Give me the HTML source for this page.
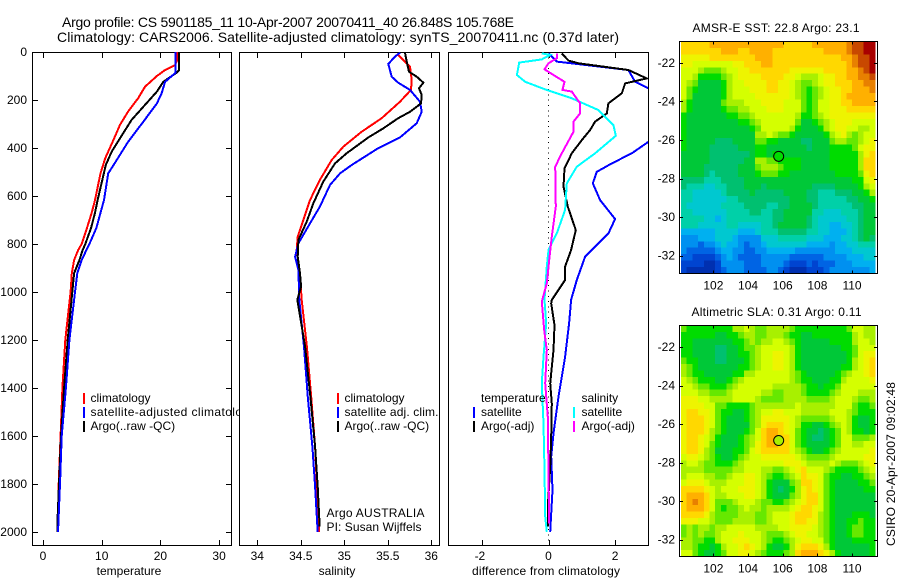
<!DOCTYPE html>
<html lang="en">
<head>
<meta charset="utf-8">
<title>Argo profile</title>
<style>
html,body{margin:0;padding:0;background:#fff}
svg{display:block}
text{font-family:"Liberation Sans",sans-serif;font-size:12px;fill:#000}
.title{font-size:14px}
.frame{fill:#fff;stroke:#000;stroke-width:1;shape-rendering:crispEdges}
.box{fill:none;stroke:#000;stroke-width:1;shape-rendering:crispEdges}
</style>
</head>
<body>
<svg id="fig" xmlns="http://www.w3.org/2000/svg" width="900" height="580" viewBox="0 0 900 580">
<defs>
<clipPath id="clip-diff"><rect x="449" y="52" width="199" height="493"/></clipPath>
<clipPath id="clip-temp"><rect x="33" y="52" width="198" height="493"/></clipPath>
<clipPath id="clip-sal"><rect x="240" y="52" width="199" height="493"/></clipPath>
</defs>
<text class="title" x="62" y="27" textLength="452" lengthAdjust="spacing">Argo profile: CS 5901185_11 10-Apr-2007 20070411_40 26.848S 105.768E</text>
<text class="title" x="57" y="42" textLength="562" lengthAdjust="spacing">Climatology: CARS2006. Satellite-adjusted climatology: synTS_20070411.nc (0.37d later)</text>

<g id="panel-temp">
<rect class="frame" x="32.5" y="52.5" width="199" height="493"/>
<g id="temp-ticks"></g>
<g id="temp-lines" clip-path="url(#clip-temp)"></g>
<rect x="83" y="393" width="2" height="11" fill="#f00"/>
<rect x="83" y="407" width="2" height="11" fill="#00f"/>
<rect x="83" y="421" width="2" height="11" fill="#000"/>
<text x="90.5" y="402">climatology</text>
<text x="90.5" y="416" textLength="165" lengthAdjust="spacing">satellite-adjusted climatology</text>
<text x="90.5" y="430">Argo(..raw -QC)</text>
<text x="129" y="575" text-anchor="middle">temperature</text>
</g>

<g id="panel-sal">
<rect class="frame" x="239.5" y="52.5" width="200" height="493"/>
<g id="sal-ticks"></g>
<g id="sal-lines" clip-path="url(#clip-sal)"></g>
<rect x="337" y="393" width="2" height="11" fill="#f00"/>
<rect x="337" y="407" width="2" height="11" fill="#00f"/>
<rect x="337" y="421" width="2" height="11" fill="#000"/>
<text x="344.5" y="402">climatology</text>
<text x="344.5" y="416" textLength="94" lengthAdjust="spacing">satellite adj. clim.</text>
<text x="344.5" y="430">Argo(..raw -QC)</text>
<text x="326.5" y="517" textLength="98" lengthAdjust="spacing">Argo AUSTRALIA</text>
<text x="326.5" y="531" textLength="95" lengthAdjust="spacing">PI: Susan Wijffels</text>
<text x="337" y="575" text-anchor="middle">salinity</text>
</g>

<g id="panel-diff">
<rect class="frame" x="448.5" y="52.5" width="200" height="493"/>
<g id="diff-ticks"></g>
<g id="diff-lines" clip-path="url(#clip-diff)"></g>
<rect x="473" y="407" width="2" height="11" fill="#00f"/>
<rect x="473" y="421" width="2" height="11" fill="#000"/>
<rect x="573" y="407" width="2" height="11" fill="#0ff"/>
<rect x="573" y="421" width="2" height="11" fill="#f0f"/>
<text x="481" y="402">temperature</text>
<text x="481" y="416">satellite</text>
<text x="481" y="430">Argo(-adj)</text>
<text x="581.5" y="402">salinity</text>
<text x="581.5" y="416">satellite</text>
<text x="581.5" y="430">Argo(-adj)</text>
<text x="546" y="575" text-anchor="middle" textLength="148" lengthAdjust="spacing">difference from climatology</text>
</g>

<g id="map-sst">
<text x="692.5" y="32" textLength="167" lengthAdjust="spacing">AMSR-E SST: 22.8 Argo: 23.1</text>
<g id="sst-cells" shape-rendering="crispEdges"></g>
<rect class="box" x="679.5" y="41.5" width="198" height="232"/>
<g id="sst-ticks"></g>
<g id="sst-marker"></g>
</g>

<g id="map-sla">
<text x="691.5" y="316" textLength="170" lengthAdjust="spacing">Altimetric SLA: 0.31 Argo: 0.11</text>
<g id="sla-cells" shape-rendering="crispEdges"></g>
<rect class="box" x="679.5" y="325.5" width="198" height="231"/>
<g id="sla-ticks"></g>
<g id="sla-marker"></g>
</g>

<text transform="translate(895 546) rotate(-90)" textLength="164" lengthAdjust="spacing">CSIRO 20-Apr-2007 09:02:48</text>
</svg>

<script>
// ---- Temperature panel data ----
const tempXTicks = [0, 10, 20, 30];
const depthTicks = [0, 200, 400, 600, 800, 1000, 1200, 1400, 1600, 1800, 2000];
const tempClimDepth = [0, 33, 54, 75, 100, 144, 193, 248, 304, 367, 443, 506, 617, 670, 733, 800, 825, 867, 922, 1000, 1200, 1400, 1600, 1800, 2000];
const tempClimValue = [22.9, 22.9, 22.5, 20.8, 19.4, 17.4, 16.2, 14.5, 13.1, 12, 10.6, 9.8, 8.86, 8.3, 7.5, 6.6, 6.0, 5.3, 4.9, 4.7, 3.8, 3.3, 3.0, 2.67, 2.5];
const tempArgoDepth = [0, 75, 86, 124, 165, 228, 283, 325, 415, 471, 617, 670, 733, 800, 825, 867, 922, 1000, 1200, 1400, 1600, 1800, 1950, 2000];
const tempArgoValue = [23.2, 23.2, 22.8, 20.5, 19.4, 17.1, 15.1, 14, 11.7, 10.7, 9.3, 8.86, 8.2, 7.2, 6.76, 6.2, 5.3, 5, 4.2, 3.6, 3.07, 2.72, 2.47, 2.45];
const tempSatDepth = [0, 47, 86, 124, 172, 214, 290, 374, 464, 506, 617, 670, 733, 800, 825, 867, 922, 1000, 1200, 1400, 1600, 1800, 2000];
const tempSatValue = [22.6, 22.6, 22.6, 20.8, 20.2, 19.4, 17.1, 14.5, 12.2, 11.1, 10.4, 9.8, 9.1, 7.9, 7.4, 6.6, 5.85, 5.45, 4.5, 3.9, 3.18, 2.9, 2.55];

// ---- Salinity panel data ----
const salXTicks = [34, 34.5, 35, 35.5, 36];
const salXLabels = ['34', '34.5', '35', '35.5', '36'];
const salClimDepth = [12, 61, 117, 158, 207, 276, 332, 394, 450, 533, 617, 700, 769, 825, 867, 978, 1033, 1228, 1437, 1645, 2000];
const salClimValue = [35.62, 35.755, 35.775, 35.767, 35.64, 35.43, 35.2, 34.99, 34.855, 34.72, 34.606, 34.53, 34.464, 34.453, 34.47, 34.5, 34.51, 34.57, 34.62, 34.664, 34.71];
const salArgoDepth = [3, 40, 82, 103, 128, 151, 179, 214, 249, 276, 318, 356, 422, 464, 540, 631, 707, 783, 853, 922, 978, 1033, 1228, 1437, 1645, 1811, 1978];
const salArgoValue = [35.698, 35.717, 35.744, 35.832, 35.909, 35.859, 35.89, 35.882, 35.755, 35.62, 35.449, 35.277, 35.027, 34.893, 34.759, 34.644, 34.568, 34.472, 34.464, 34.491, 34.503, 34.46, 34.55, 34.61, 34.664, 34.694, 34.717];
const salSatDepth = [3, 19, 50, 103, 128, 158, 207, 249, 297, 356, 401, 471, 506, 554, 644, 714, 797, 853, 908, 1033, 1228, 1437, 1645, 1811, 2000];
const salSatValue = [35.64, 35.583, 35.506, 35.545, 35.62, 35.755, 35.87, 35.89, 35.832, 35.64, 35.39, 35.085, 34.95, 34.836, 34.72, 34.606, 34.472, 34.434, 34.472, 34.483, 34.537, 34.58, 34.633, 34.664, 34.694];

// ---- Difference panel data ----
const diffXTicks = [-2, 0, 2];
const diffTempSatDepth = [6, 26, 40, 75, 124, 151, 262, 374, 422, 464, 499, 547, 617, 696, 756, 853, 950, 1033, 1131, 1270, 1436, 1589, 1686, 1825, 1999];
const diffTempSatValue = [0, 0.15, 0.25, 2.4, 2.6, 3.0, 4.0, 3.0, 2.5, 1.9, 1.45, 1.33, 1.55, 2.0, 1.8, 1.1, 0.85, 0.68, 0.62, 0.5, 0.3, 0.15, 0.08, 0.12, 0.05];
const diffTempArgoDepth = [6, 36, 47, 75, 110, 131, 172, 214, 256, 290, 325, 367, 422, 485, 561, 644, 742, 825, 894, 950, 1033, 1048, 1138, 1242, 1381, 1464, 1603, 1728, 1895, 1978];
const diffTempArgoValue = [0.4, 0.6, 0.9, 2.4, 2.95, 2.3, 2.2, 1.8, 1.75, 1.4, 1.25, 1.0, 0.7, 0.48, 0.45, 0.58, 0.82, 0.68, 0.5, 0.5, 0.1, 0.08, 0.18, 0.15, 0.05, 0.1, 0.08, 0.05, -0.02, -0.02];
const diffSalSatDepth = [6, 12, 31, 44, 96, 124, 156, 193, 242, 304, 349, 422, 478, 547, 658, 756, 825, 894, 1033, 1131, 1270, 1381, 1548, 1742, 1936, 1999];
const diffSalSatValue = [-0.2, 0.05, -0.2, -0.88, -0.95, -0.7, -0.1, 0.7, 1.5, 1.95, 2.02, 1.4, 0.85, 0.55, 0.5, 0.25, 0, -0.05, -0.12, -0.07, -0.15, -0.2, -0.15, -0.12, -0.1, -0.05];
const diffSalArgoDepth = [6, 26, 47, 72, 96, 124, 158, 165, 214, 256, 290, 332, 422, 478, 644, 769, 867, 964, 1040, 1159, 1242, 1381, 1520, 1756, 1964];
const diffSalArgoValue = [0.25, 0.25, 0, -0.12, 0.15, 0.48, 0.42, 0.7, 0.95, 0.95, 0.75, 0.75, 0.4, 0.2, 0.22, 0.1, 0.02, -0.05, -0.2, -0.13, -0.05, -0.1, -0.02, 0, 0.02];

// ---- Map data: rows north to south, colour level per cell ----
const mapLonTicks = [102, 104, 106, 108, 110];
const mapLatTicks = [-22, -24, -26, -28, -30, -32];
const argoLon = 105.768;
const argoLat = -26.848;
const argoSstLevel = 9.4;
const argoSlaLevel = 11;
const sstLevels = [
[14,14,14,14,14,15,15,15,15,15,15,15,15,15,15,15,15,15,14,14,14,14,14,15,15,15,15,15,15,16,17,17,18,18],
[14,14,14,14,14,14,14,15,15,15,14,14,15,15,15,15,14,14,14,14,14,14,14,14,14,15,15,15,15,16,17,17,18,18],
[13,13,13,13,13,14,14,14,14,14,14,14,14,15,15,15,14,14,14,14,14,14,14,14,14,14,14,14,15,15,16,17,17,18],
[13,13,12,12,12,12,12,12,12,13,13,14,14,14,15,15,14,14,14,14,14,14,14,14,14,14,14,14,14,15,16,17,17,18],
[12,12,12,11,10,10,10,11,12,12,13,13,14,14,14,14,14,14,14,13,13,13,13,13,13,14,14,14,14,15,15,16,17,18],
[12,12,11,9,9,9,9,10,11,12,13,13,13,13,14,14,14,14,13,13,12,11,11,11,12,13,13,14,14,15,15,16,16,17],
[12,11,10,8,8,8,8,9,11,12,12,13,13,13,13,14,14,13,13,12,11,10,10,11,12,13,13,14,14,14,15,15,16,16],
[12,10,9,8,8,8,8,9,11,12,12,12,13,13,13,14,14,13,13,12,11,10,9,10,11,12,13,13,14,14,15,15,15,16],
[12,10,8,8,8,8,8,9,11,12,12,12,12,13,13,13,13,13,13,12,11,10,9,10,11,12,13,13,14,15,15,15,15,15],
[11,9,8,8,8,8,8,10,11,11,11,12,12,12,13,13,13,13,12,12,12,10,9,10,12,12,13,13,14,14,15,15,15,15],
[11,9,8,8,8,8,8,9,10,10,11,11,12,12,12,13,13,13,12,12,12,10,9,10,12,12,13,13,13,14,14,14,14,14],
[9,8,8,8,8,8,8,8,9,9,10,10,11,12,12,12,12,12,12,12,11,9,9,10,11,12,13,13,13,13,13,13,13,13],
[9,8,8,8,8,8,8,8,8,8,9,9,10,11,12,12,12,12,12,12,10,8,8,9,10,11,12,13,13,13,12,12,12,12],
[9,8,8,8,8,8,8,8,8,8,8,8,9,10,12,12,12,12,12,11,9,8,8,8,9,11,12,13,13,12,12,11,11,12],
[9,8,8,8,8,8,8,8,8,8,8,8,8,11,11,12,11,10,10,9,8,8,8,8,8,9,11,12,13,11,10,11,12,12],
[9,8,8,8,8,8,7,7,7,8,8,8,8,10,10,9,9,8,8,8,8,7,7,8,8,8,10,11,11,10,10,11,12,13],
[9,8,8,8,8,7,7,7,7,7,8,8,8,9,9,8,8,8,8,8,8,8,7,8,8,8,9,9,9,9,10,12,13,13],
[8,8,8,8,8,7,7,7,7,7,7,7,8,9,9,8,9,9,8,8,8,8,8,8,8,8,9,9,9,9,9,11,13,14],
[8,8,8,8,8,7,7,7,7,7,7,8,8,11,11,10,10,9,9,9,9,8,8,8,8,8,9,9,9,9,9,11,14,14],
[8,8,8,8,7,7,7,7,7,7,8,8,8,10,11,11,11,10,9,9,9,8,8,8,8,8,9,9,9,9,9,11,14,14],
[8,8,8,8,7,6,7,7,7,7,8,8,8,9,10,10,10,9,9,8,8,8,8,8,8,8,8,9,9,9,9,10,13,14],
[7,7,7,7,6,6,6,7,7,7,7,8,8,8,8,8,8,8,8,8,8,8,8,8,8,8,8,8,8,8,9,9,12,13],
[7,6,6,6,5,5,6,6,7,7,7,8,8,8,7,8,8,8,8,8,8,8,8,7,7,7,7,8,8,8,8,9,11,12],
[6,6,5,5,5,5,5,6,7,7,7,7,8,7,7,7,7,7,8,8,8,8,7,7,6,6,6,7,7,7,8,8,9,11],
[6,6,5,5,5,5,5,5,6,6,7,7,7,7,7,7,7,7,7,8,8,8,7,7,6,6,6,6,6,7,7,8,8,9],
[6,5,5,5,5,5,5,6,6,6,6,7,7,7,7,6,6,7,7,8,8,8,8,7,6,6,6,6,6,6,7,7,8,8],
[6,6,5,5,5,5,5,5,6,6,6,6,7,7,6,6,7,7,8,8,8,8,8,6,6,5,5,5,6,6,6,7,8,8],
[6,6,6,6,5,5,4,5,6,6,6,6,6,6,6,6,7,7,8,8,8,8,7,6,5,5,5,5,5,6,6,7,8,8],
[6,6,6,5,5,5,5,5,6,6,5,5,5,5,6,6,7,8,8,8,8,8,7,6,5,5,4,4,5,5,6,7,8,8],
[4,4,4,4,4,4,5,5,5,5,4,4,4,5,6,6,6,7,7,7,7,7,6,6,5,5,4,4,4,5,6,7,8,8],
[3,3,3,4,4,4,5,5,5,4,3,3,3,3,5,5,5,6,6,6,6,6,5,5,5,4,4,4,5,5,6,7,8,7],
[3,3,3,2,3,3,4,5,4,4,3,2,3,3,4,5,5,5,5,5,5,5,4,4,4,4,3,4,4,5,5,6,6,6],
[3,2,2,2,2,2,3,4,4,3,3,2,2,3,3,4,4,4,4,4,3,3,3,3,3,3,3,4,4,4,5,5,5,5],
[2,2,1,1,1,1,2,3,4,3,2,2,2,2,3,3,3,3,3,2,2,2,2,2,2,3,3,3,3,4,4,4,5,5],
[1,1,1,1,0,0,1,3,3,3,3,2,2,2,3,3,3,3,2,1,1,1,2,1,2,2,2,3,3,3,4,4,4,4],
[1,0,0,0,0,0,1,2,3,3,3,2,2,2,2,3,3,2,1,0,0,0,1,1,1,2,3,3,3,3,3,3,3,4]
];
const slaLevels = [
[10,9,9,9,9,9,9,9,9,11,11,12,11,10,10,11,11,11,11,10,9,9,9,9,9,9,9,9,9,10,12,12,11,11],
[9,9,9,9,9,9,8,8,9,9,10,11,11,10,10,11,11,11,10,9,9,8,8,9,9,9,9,9,9,9,11,12,11,11],
[9,9,8,8,8,8,8,8,8,9,9,10,11,10,11,11,12,12,11,10,9,8,8,8,8,8,9,9,9,9,11,12,12,11],
[9,9,8,8,8,8,7,7,8,8,9,10,10,11,12,12,12,12,12,11,9,8,8,8,8,8,8,8,9,9,10,12,12,12],
[9,9,8,8,8,8,7,7,8,8,9,9,10,11,12,12,13,13,12,11,9,8,8,8,8,8,8,8,8,9,10,12,13,13],
[10,9,9,8,8,8,7,7,8,8,8,9,10,11,12,12,13,13,12,11,9,8,8,8,8,8,8,8,8,9,11,12,13,14],
[11,10,9,8,8,8,8,8,8,8,9,9,10,11,12,12,13,13,12,11,9,8,8,8,8,8,8,8,9,9,11,12,13,14],
[11,10,9,9,8,8,8,8,8,9,9,11,11,12,12,12,12,12,12,11,10,9,8,8,8,8,8,9,10,11,12,12,13,14],
[12,11,10,9,9,9,8,8,9,10,11,12,12,12,12,12,12,12,12,11,10,9,9,8,8,8,9,9,11,12,12,12,12,13],
[12,12,11,10,10,9,9,9,10,11,12,12,12,12,12,12,11,11,11,11,11,10,9,9,8,9,9,10,12,12,12,12,12,12],
[12,12,12,11,11,10,10,10,11,12,12,12,12,12,11,11,10,10,11,11,11,10,9,9,9,9,10,11,12,12,12,11,11,11],
[13,13,13,12,12,11,11,11,11,12,12,12,12,11,10,10,10,10,11,11,11,11,10,10,10,10,11,12,12,12,11,10,10,11],
[13,13,13,13,12,12,10,10,9,9,9,9,10,11,11,11,11,11,11,11,12,11,11,11,11,11,11,12,12,12,10,9,9,10],
[13,14,14,13,13,12,10,9,9,8,8,9,10,11,12,12,13,13,12,12,12,11,11,11,11,11,12,12,12,11,10,9,9,9],
[13,14,14,14,13,12,10,9,8,8,8,9,10,11,13,13,13,13,13,12,11,10,10,10,10,10,11,12,12,11,9,8,8,9],
[13,14,14,14,13,12,10,9,8,8,8,8,10,11,13,14,14,14,13,12,11,9,9,8,8,9,10,11,12,11,9,8,8,9],
[13,14,14,14,13,11,10,9,8,8,8,9,10,12,14,15,15,14,13,12,10,9,8,8,7,8,9,10,12,11,9,9,8,9],
[13,14,14,13,12,11,9,8,8,8,9,10,11,12,14,15,15,14,14,12,10,9,8,7,7,8,9,10,12,12,10,10,10,11],
[13,14,14,13,12,10,9,8,8,8,9,10,11,13,14,15,15,14,14,12,10,9,8,8,8,8,9,10,12,12,11,11,12,12],
[13,14,14,13,11,10,8,8,8,9,9,10,12,13,14,14,14,14,14,12,11,10,9,8,8,9,10,11,12,12,12,12,12,13],
[12,13,13,12,11,10,9,8,8,9,10,11,12,12,13,13,13,13,13,13,12,11,10,10,10,10,11,12,12,12,12,12,13,13],
[11,12,12,11,10,10,9,9,9,10,11,12,12,12,12,12,12,12,13,13,13,12,11,11,11,11,12,11,10,10,10,11,12,13],
[11,11,11,11,10,10,10,10,10,11,11,12,12,12,11,11,10,10,11,12,13,14,12,12,12,11,10,9,9,9,9,10,11,12],
[11,12,12,12,11,11,10,10,11,12,12,13,13,12,11,10,9,9,10,11,12,14,13,13,12,10,9,9,8,8,9,9,10,11],
[12,13,13,13,12,11,11,11,12,12,12,13,13,12,11,9,8,8,8,10,11,14,14,13,12,10,9,8,8,8,8,9,9,10],
[14,14,14,14,13,12,11,12,12,12,13,13,13,12,11,9,8,7,8,9,11,13,14,13,12,10,9,8,8,8,8,8,9,9],
[14,15,15,15,14,12,11,11,12,12,12,13,13,12,11,9,8,8,8,10,11,13,14,14,12,10,9,8,8,8,8,8,8,8],
[14,15,16,15,14,12,10,10,10,11,12,12,12,11,10,10,9,9,10,11,12,13,14,14,12,10,9,8,8,8,8,8,8,8],
[14,15,15,15,14,12,10,9,10,10,11,12,11,11,10,11,11,11,11,12,13,14,14,13,12,10,9,8,8,8,8,8,8,8],
[14,14,14,14,13,11,10,10,10,10,11,11,11,10,10,11,12,12,12,13,14,14,14,13,11,10,9,8,8,8,9,9,9,8],
[13,13,13,12,12,11,10,10,10,11,11,11,11,10,10,11,12,12,12,13,14,14,13,13,11,10,9,8,8,9,9,10,9,9],
[10,11,10,11,11,10,11,11,12,12,12,12,12,11,11,11,11,12,12,13,13,13,13,12,11,10,9,8,8,9,10,10,9,9],
[10,11,10,11,10,10,11,12,12,12,13,12,12,12,11,10,10,10,11,12,13,13,12,12,11,10,9,8,8,9,10,10,9,9],
[11,11,10,10,9,9,11,12,12,13,13,13,12,12,11,10,9,9,10,11,12,13,13,12,12,10,9,8,8,8,9,9,9,9],
[11,11,10,9,9,8,9,11,12,12,13,14,13,12,11,9,8,8,9,11,13,14,14,14,13,11,9,8,8,8,8,8,8,9],
[12,12,10,9,8,8,9,10,12,12,13,13,12,11,10,9,9,9,10,11,14,15,15,15,14,13,11,9,8,8,8,8,8,9]
];

const colorRamp = ['#0030b0','#0044d0','#0064e4','#0090f0','#00b0f0','#00c8d0','#00d0a8','#00c070','#00c838','#00dc00','#66e800','#a8f000','#d4ff00','#eef400','#ffd800','#ffb000','#e88000','#c84800','#a80000'];

const SVGNS = 'http://www.w3.org/2000/svg';
function node(tag, parentId, attrs, txt) {
  const n = document.createElementNS(SVGNS, tag);
  for (const k in attrs) n.setAttribute(k, attrs[k]);
  if (txt !== undefined) n.textContent = txt;
  document.getElementById(parentId).appendChild(n);
  return n;
}

// Axis functions
const depthY = d => 52 + 0.24 * d;
const tempX = v => 43 + 5.87 * v;
const salX = v => 257.3 + 87 * (v - 34);
const diffX = v => 548.5 + 33.3 * v;
const lonX = lon => 782.7 + 17.33 * (lon - 106);
const sstLatY = lat => 140 + 19.27 * (-26 - lat);
const slaLatY = lat => 424.2 + 19.25 * (-26 - lat);

function profile(parentId, xf, depths, values, color, name) {
  const pts = depths.map((d, i) => xf(values[i]).toFixed(1) + ',' + depthY(d).toFixed(1)).join(' ');
  const l = node('polyline', parentId, {points: pts, fill: 'none', stroke: color, 'stroke-width': 2, 'stroke-linejoin': 'miter', 'shape-rendering': 'crispEdges'});
  
  
}
function vTick(parentId, x, y0, y1) {
  const t = node('line', parentId, {x1: x, x2: x, y1: y0, y2: y1, stroke: '#000', 'shape-rendering': 'crispEdges'});
  
  
}
function hTick(parentId, x0, x1, y) {
  const t = node('line', parentId, {x1: x0, x2: x1, y1: y, y2: y, stroke: '#000', 'shape-rendering': 'crispEdges'});
  
  
}
function xLabel(parentId, x, y, txt) {
  const t = node('text', parentId, {x: x, y: y, 'text-anchor': 'middle'}, txt);
  
  
}
function yLabel(parentId, x, y, txt) {
  const t = node('text', parentId, {x: x, y: y, 'text-anchor': 'end'}, txt);
  
  
}
function xAxis(parentId, ticks, labels, xf) {
  ticks.forEach((v, i) => {
    const x = Math.round(xf(v)) + 0.5;
    vTick(parentId, x, 52, 58);
    vTick(parentId, x, 540, 545);
    xLabel(parentId, xf(v) - (v < 0 ? 2 : 0), 560, labels[i]);
  });
}

// Temperature
xAxis('temp-ticks', tempXTicks, tempXTicks.map(String), tempX);
depthTicks.forEach(d => {
  const y = Math.round(depthY(d)) + 0.5;
  if (d > 0) hTick('temp-ticks', 33, 38, y);
  if (d > 0) hTick('temp-ticks', 226, 231, y);
  yLabel('temp-ticks', 27, depthY(d) + 4, String(d));
});
profile('temp-lines', tempX, tempClimDepth, tempClimValue, '#f00', 'temperature-climatology-line');
profile('temp-lines', tempX, tempArgoDepth, tempArgoValue, '#000', 'temperature-argo-line');
profile('temp-lines', tempX, tempSatDepth, tempSatValue, '#00f', 'temperature-satellite-line');

// Salinity
xAxis('sal-ticks', salXTicks, salXLabels, salX);
profile('sal-lines', salX, salClimDepth, salClimValue, '#f00', 'salinity-climatology-line');
profile('sal-lines', salX, salSatDepth, salSatValue, '#00f', 'salinity-satellite-line');
profile('sal-lines', salX, salArgoDepth, salArgoValue, '#000', 'salinity-argo-line');

// Difference
xAxis('diff-ticks', diffXTicks, diffXTicks.map(String), diffX);
const zeroLine = node('line', 'diff-lines', {x1: diffX(0), x2: diffX(0), y1: 52, y2: 545, stroke: '#000', 'stroke-dasharray': '1 4.3', 'shape-rendering': 'crispEdges'});


profile('diff-lines', diffX, diffTempSatDepth, diffTempSatValue, '#00f', 'difference-temperature-satellite-line');
profile('diff-lines', diffX, diffTempArgoDepth, diffTempArgoValue, '#000', 'difference-temperature-argo-line');
profile('diff-lines', diffX, diffSalSatDepth, diffSalSatValue, '#0ff', 'difference-salinity-satellite-line');
profile('diff-lines', diffX, diffSalArgoDepth, diffSalArgoValue, '#f0f', 'difference-salinity-argo-line');

// Maps
function levelColor(v) {
  const i = Math.max(0, Math.min(colorRamp.length - 1, Math.round(v)));
  return colorRamp[i];
}
function drawMap(prefix, grid, top, height, latY, markerLevel) {
  const left = 681, width = 194;
  const nRows = grid.length;
  grid.forEach((row, r) => {
    const nCols = row.length;
    row.forEach((v, c) => {
      const cell = node('rect', prefix + '-cells', {
        x: (left + c * width / nCols).toFixed(2),
        y: (top + r * height / nRows).toFixed(2),
        width: (width / nCols + 0.3).toFixed(2),
        height: (height / nRows + 0.3).toFixed(2),
        fill: levelColor(v)
      });
      
      
    });
  });
  const bottom = top + height;
  mapLonTicks.forEach(lon => {
    const x = Math.round(lonX(lon)) + 0.5;
    vTick(prefix + '-ticks', x, top, top + 3);
    vTick(prefix + '-ticks', x, bottom - 3, bottom);
    xLabel(prefix + '-ticks', lonX(lon), bottom + 16, String(lon));
  });
  mapLatTicks.forEach(lat => {
    const y = Math.round(latY(lat)) + 0.5;
    hTick(prefix + '-ticks', 680, 683, y);
    hTick(prefix + '-ticks', 874, 877, y);
    yLabel(prefix + '-ticks', 675, latY(lat) + 4, String(lat));
  });
  const m = node('circle', prefix + '-marker', {cx: lonX(argoLon), cy: latY(argoLat), r: 5, fill: levelColor(markerLevel), stroke: '#000', 'stroke-width': 1});
  
  
}
drawMap('sst', sstLevels, 41.5, 232, sstLatY, argoSstLevel);
drawMap('sla', slaLevels, 325.5, 231, slaLatY, argoSlaLevel);
</script>
</body>
</html>
